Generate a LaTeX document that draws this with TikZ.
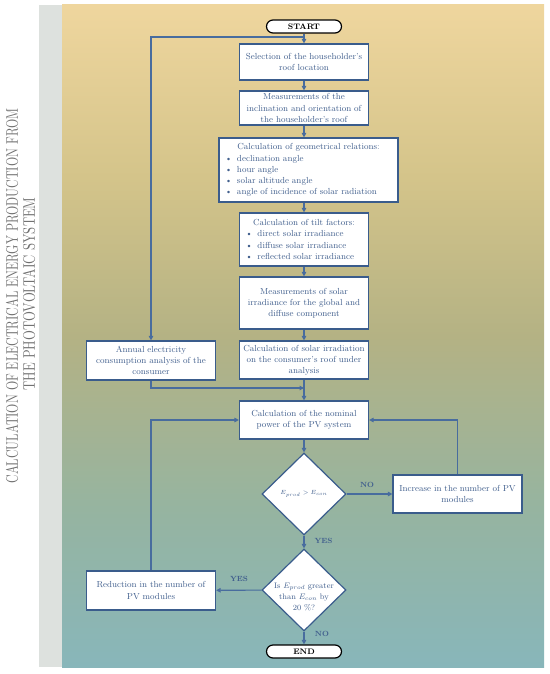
\documentclass[tikz,border=0pt]{standalone}
\usepackage{graphicx}
\usetikzlibrary{shapes.geometric,arrows.meta}

\definecolor{boxline}{RGB}{58,92,140}
\definecolor{boxtext}{RGB}{66,96,142}
\definecolor{flowline}{RGB}{72,108,158}
\definecolor{bandgray}{RGB}{221,225,222}
\definecolor{titlegray}{RGB}{112,112,112}
\definecolor{ptop}{RGB}{239,214,158}
\definecolor{pc2}{RGB}{212,196,138}
\definecolor{pc3}{RGB}{180,178,132}
\definecolor{pc4}{RGB}{150,180,160}
\definecolor{pbot}{RGB}{136,182,186}
\pgfdeclareverticalshading{panel}{100bp}{color(0bp)=(pbot); color(25bp)=(pbot); color(37bp)=(pc4); color(50bp)=(pc3); color(62bp)=(pc2); color(75bp)=(ptop); color(100bp)=(ptop)}

\tikzstyle{proc} = [draw=boxline, fill=white, line width=1.2bp, text=boxtext, text width=125bp, inner xsep=2bp, inner ysep=1bp, align=center, font=\fontsize{8.8}{11.2}\selectfont]
\tikzstyle{term} = [draw=black, fill=white, line width=1.2bp, rounded corners=6.5bp, minimum width=75bp, minimum height=13bp, inner sep=0pt, font=\fontsize{8}{9}\selectfont\bfseries]
\tikzstyle{test} = [diamond, draw=boxline, fill=white, line width=1.2bp, minimum width=84bp, minimum height=82bp, inner sep=0pt]
\tikzstyle{flow} = [draw=flowline, line width=1.1bp, -{Triangle[length=4.5bp,width=4.5bp]}]
\tikzstyle{answer} = [text=boxtext, inner sep=0pt, font=\fontsize{7.5}{9}\selectfont\bfseries]
\tikzstyle{heading} = [rotate=90, text=titlegray, inner sep=0pt]

\newcommand{\itm}[1]{\hspace*{4bp}\makebox[12bp][l]{\textbullet}#1}

\begin{document}
\begin{tikzpicture}[x=1bp, y=-1bp]
        \useasboundingbox (0,0) rectangle (550,674);
        \fill[bandgray] (39,5) rectangle (62,667);
        \shade[shading=panel] (62,5) rectangle (544,667);

        \node[heading] (title1) at (12,296) {\resizebox{375bp}{12bp}{CALCULATION OF ELECTRICAL ENERGY PRODUCTION FROM}};
        \node[heading] (title2) at (29,294) {\resizebox{193bp}{12bp}{THE PHOTOVOLTAIC SYSTEM}};

        \node[term] (start) at (304,26.5) {START};
        \node[proc, minimum height=36bp] (b1) at (304,62) {Selection of the householder's\\roof location};
        \node[proc, minimum height=34bp] (b2) at (304,108) {Measurements of the\\inclination and orientation of\\the householder's roof};
        \node[proc, text width=175bp, align=left, minimum height=64bp] (b3) at (308.5,170) {\makebox[175bp][c]{Calculation of geometrical relations:}\\\itm{declination angle}\\\itm{hour angle}\\\itm{solar altitude angle}\\\itm{angle of incidence of solar radiation}};
        \node[proc, align=left, minimum height=53bp] (b4) at (304,239.5) {\makebox[125bp][c]{Calculation of tilt factors:}\\\itm{direct solar irradiance}\\\itm{diffuse solar irradiance}\\\itm{reflected solar irradiance}};
        \node[proc, minimum height=52bp] (b5) at (304,303) {Measurements of solar\\irradiance for the global and\\diffuse component};
        \node[proc, minimum height=38bp] (b6) at (304,360) {Calculation of solar irradiation\\on the consumer's roof under\\analysis};
        \node[proc, minimum height=39bp] (b7) at (151,360.5) {Annual electricity\\consumption analysis of the\\consumer};
        \node[proc, minimum height=38bp] (b8) at (304,420) {Calculation of the nominal\\power of the PV system};
        \node[test, label={[text=boxtext, font=\fontsize{6}{7}\selectfont]center:$E_{prod} > E_{con}$}] (d1) at (304,494) {};
        \node[proc, minimum height=38bp] (b9) at (457.5,494) {Increase in the number of PV\\modules};
        \node[test, label={[text=boxtext, align=center, yshift=-7bp, font=\fontsize{8}{11}\selectfont]center:Is $E_{prod}$ greater\\than $E_{con}$ by\\20~\%?}] (d2) at (304,590) {};
        \node[proc, minimum height=39bp] (b10) at (151,590.5) {Reduction in the number of\\PV modules};
        \node[term] (stop) at (304,651.5) {END};

        \node[answer] (no1) at (367,485) {NO};
        \node[answer] (yes1) at (323.5,541) {YES};
        \node[answer] (yes2) at (239,579) {YES};
        \node[answer] (no2) at (322,634) {NO};

        \coordinate (j1) at (304,37);
        \coordinate (j2) at (304,388);
        \draw[flow] (start) -- (b1);
        \draw[flow] (j1) -| (b7.north);
        \draw[flow] (b1) -- (b2);
        \draw[flow] (b2.south) -- (b2.south |- b3.north);
        \draw[flow] (b3.south -| b4.north) -- (b4.north);
        \draw[flow] (b4) -- (b5);
        \draw[flow] (b5) -- (b6);
        \draw[flow] (b7.south) |- (j2);
        \draw[flow] (b6) -- (b8);
        \draw[flow] (b8) -- (d1);
        \draw[flow] (d1) -- (b9);
        \draw[flow] (b9.north) |- (b8.east);
        \draw[flow] (d1) -- (d2);
        \draw[flow] (d2) -- (b10);
        \draw[flow] (b10.north) |- (b8.west);
        \draw[flow] (d2) -- (stop);
        \end{tikzpicture}
\end{document}
